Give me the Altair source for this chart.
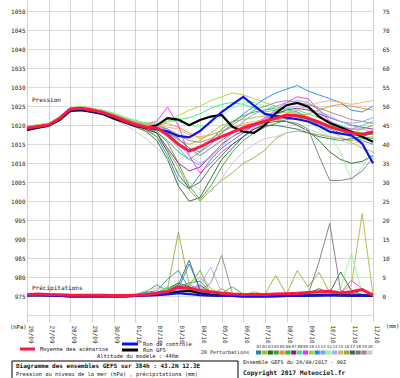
import altair as alt
import pandas as pd

DATES = ["26/09", "27/09", "28/09", "29/09", "30/09", "01/10", "02/10", "03/10", "04/10",
         "05/10", "06/10", "07/10", "08/10", "09/10", "10/10", "11/10", "12/10"]
STEPS = [i * 0.5 for i in range(33)]  # days since 26/09 00Z, 12-hourly

MEMBERS = ["01", "02", "03", "04", "05", "06", "07", "08", "09", "10",
           "11", "12", "13", "14", "15", "16", "17", "18", "19", "20"]
COLORS = ["#1f8a9e", "#b5b53c", "#1f6b1f", "#3ca03c", "#ff8c1a", "#22c022", "#8b1a8b",
          "#22ee88", "#ff22ff", "#99dd22", "#2288ee", "#8899ff", "#88ff88", "#aaaaff",
          "#e8b070", "#99aa33", "#336666", "#777777", "#998888", "#c8c8c8"]

# ---- sea level pressure (hPa) ----
CTRL_P = [1019.2, 1019.6, 1020.0, 1021.6, 1024.1, 1024.3, 1023.8, 1023.2, 1022.2, 1021.0, 1020.0, 1019.4,
          1019.0, 1018.4, 1017.2, 1016.8, 1018.5, 1021.0, 1023.5, 1025.5, 1027.5, 1025.2, 1023.0, 1022.5,
          1022.0, 1021.6, 1021.0, 1019.8, 1018.3, 1017.8, 1017.4, 1015.2, 1010.0]
GFS_P = [1018.8, 1019.4, 1019.9, 1021.4, 1023.8, 1024.0, 1023.5, 1023.0, 1021.8, 1020.8, 1019.8, 1019.3,
         1020.0, 1021.9, 1021.5, 1020.0, 1021.4, 1022.3, 1022.7, 1019.6, 1018.3, 1018.0, 1020.0, 1023.2,
         1025.3, 1025.9, 1024.9, 1022.3, 1020.6, 1019.5, 1018.3, 1017.0, 1015.7]
MEAN_P = [1019.3, 1019.7, 1020.1, 1021.8, 1024.3, 1024.5, 1024.0, 1023.4, 1022.4, 1021.2, 1020.2, 1019.5,
          1019.3, 1017.5, 1015.0, 1013.2, 1014.3, 1015.8, 1017.0, 1018.2, 1019.3, 1020.2, 1021.0, 1021.9,
          1022.7, 1022.5, 1021.9, 1020.8, 1019.6, 1018.8, 1018.0, 1017.6, 1018.3]

M01_P = [1019.5, 1019.8, 1020.3, 1021.8, 1024.2, 1024.6, 1024.1, 1023.6, 1022.6, 1021.4, 1020.2, 1019.0,
         1017.0, 1012.0, 1005.5, 1003.2, 1007.0, 1011.0, 1014.0, 1016.0, 1018.0, 1020.0, 1022.0, 1023.0,
         1024.0, 1023.5, 1022.0, 1020.0, 1019.0, 1018.0, 1017.0, 1016.0, 1015.0]
M02_P = [1018.6, 1019.2, 1019.8, 1021.2, 1023.6, 1024.2, 1023.9, 1023.3, 1022.4, 1021.6, 1020.6, 1019.8,
         1019.0, 1018.0, 1016.0, 1015.0, 1016.0, 1018.0, 1020.0, 1021.0, 1021.5, 1022.0, 1022.5, 1023.0,
         1023.5, 1023.0, 1021.5, 1020.0, 1018.5, 1017.0, 1015.5, 1014.0, 1013.0]
M03_P = [1019.0, 1019.6, 1020.2, 1021.6, 1024.4, 1024.8, 1024.2, 1023.4, 1022.0, 1020.8, 1019.6, 1018.4,
         1016.0, 1011.0, 1004.0, 1000.0, 1001.0, 1006.0, 1011.0, 1014.0, 1017.0, 1019.0, 1020.5, 1021.0,
         1021.0, 1020.0, 1018.5, 1016.0, 1013.0, 1011.0, 1010.0, 1010.5, 1012.0]
M04_P = [1019.3, 1019.9, 1020.4, 1022.0, 1024.0, 1024.4, 1024.0, 1023.7, 1022.8, 1021.6, 1020.4, 1019.3,
         1018.5, 1015.5, 1010.0, 1004.0, 1000.5, 1004.0, 1009.0, 1013.0, 1016.0, 1018.0, 1019.5, 1020.5,
         1021.5, 1022.0, 1021.5, 1020.5, 1019.5, 1018.5, 1017.5, 1017.0, 1016.5]
M05_P = [1019.8, 1020.1, 1020.6, 1022.2, 1024.6, 1025.0, 1024.4, 1023.9, 1023.0, 1022.0, 1021.0, 1020.2,
         1020.0, 1020.5, 1019.5, 1018.0, 1016.5, 1017.5, 1018.5, 1019.5, 1020.0, 1020.5, 1021.0, 1021.5,
         1022.0, 1022.5, 1023.0, 1024.0, 1025.0, 1025.5, 1025.0, 1024.5, 1024.0]
M06_P = [1018.9, 1019.4, 1019.9, 1021.4, 1023.9, 1024.3, 1023.9, 1023.5, 1022.5, 1021.5, 1020.5, 1019.6,
         1018.0, 1016.0, 1013.0, 1011.0, 1013.0, 1016.0, 1019.0, 1021.0, 1022.5, 1023.5, 1024.0, 1024.5,
         1024.0, 1023.0, 1022.0, 1021.0, 1020.0, 1019.0, 1018.5, 1018.0, 1017.5]
M07_P = [1019.1, 1019.5, 1020.0, 1021.5, 1024.0, 1024.5, 1024.0, 1023.4, 1022.3, 1021.3, 1020.1, 1019.0,
         1018.0, 1014.0, 1010.0, 1008.0, 1009.0, 1012.0, 1015.0, 1017.0, 1018.5, 1020.0, 1021.5, 1023.0,
         1024.0, 1024.5, 1024.0, 1023.0, 1022.0, 1021.0, 1020.0, 1019.5, 1019.0]
M08_P = [1019.6, 1020.0, 1020.5, 1022.0, 1024.5, 1024.9, 1024.5, 1024.0, 1023.2, 1022.2, 1021.3, 1020.6,
         1020.5, 1021.0, 1021.5, 1022.0, 1023.0, 1024.5, 1025.5, 1026.0, 1025.5, 1024.5, 1023.5, 1024.0,
         1024.5, 1024.0, 1023.0, 1022.0, 1021.0, 1020.0, 1019.0, 1020.0, 1021.0]
M09_P = [1019.2, 1019.7, 1020.2, 1021.7, 1024.2, 1024.6, 1024.2, 1023.6, 1022.7, 1021.8, 1020.9, 1020.4,
         1021.0, 1024.8, 1020.0, 1012.0, 1007.5, 1010.0, 1013.0, 1015.0, 1017.0, 1019.5, 1022.0, 1024.0,
         1026.0, 1027.5, 1027.0, 1024.0, 1021.0, 1019.5, 1019.0, 1019.0, 1020.0]
M10_P = [1019.4, 1019.9, 1020.4, 1021.9, 1024.3, 1024.7, 1024.3, 1023.8, 1023.0, 1022.0, 1021.1, 1020.3,
         1020.0, 1021.0, 1022.5, 1024.0, 1025.0, 1026.5, 1027.5, 1028.5, 1028.0, 1027.0, 1026.0, 1025.0,
         1024.0, 1023.0, 1022.0, 1021.0, 1020.0, 1019.0, 1018.0, 1019.0, 1020.0]
M11_P = [1018.7, 1019.3, 1019.8, 1021.3, 1023.7, 1024.1, 1023.7, 1023.1, 1022.1, 1021.1, 1020.3, 1020.0,
         1020.0, 1019.0, 1016.5, 1014.0, 1013.0, 1015.0, 1018.0, 1020.5, 1023.0, 1025.0, 1027.0, 1028.5,
         1029.5, 1030.5, 1029.0, 1028.0, 1027.0, 1026.0, 1024.0, 1023.5, 1025.0]
M12_P = [1019.0, 1019.5, 1020.1, 1021.6, 1024.1, 1024.4, 1024.0, 1023.3, 1022.3, 1021.2, 1020.3, 1019.6,
         1019.0, 1017.0, 1014.0, 1011.0, 1009.5, 1012.0, 1015.0, 1018.0, 1021.0, 1023.0, 1024.0, 1025.0,
         1026.0, 1026.5, 1026.0, 1024.0, 1022.0, 1021.0, 1020.5, 1021.0, 1022.0]
M13_P = [1019.7, 1020.1, 1020.6, 1022.1, 1024.5, 1024.9, 1024.4, 1023.9, 1023.0, 1022.1, 1021.2, 1020.6,
         1020.5, 1021.0, 1021.0, 1020.0, 1019.5, 1020.5, 1022.5, 1024.5, 1026.0, 1026.0, 1025.0, 1024.5,
         1024.0, 1023.0, 1021.0, 1019.0, 1017.0, 1013.0, 1005.5, 1009.0, 1013.0]
M14_P = [1019.1, 1019.6, 1020.0, 1021.5, 1024.0, 1024.4, 1023.9, 1023.4, 1022.5, 1021.5, 1020.6, 1019.9,
         1019.5, 1018.0, 1015.0, 1012.0, 1010.0, 1011.5, 1014.5, 1017.0, 1019.0, 1020.5, 1022.0, 1023.5,
         1024.5, 1025.0, 1024.5, 1023.5, 1022.5, 1021.0, 1020.0, 1019.0, 1018.0]
M15_P = [1019.5, 1019.9, 1020.4, 1021.9, 1024.4, 1024.8, 1024.4, 1023.8, 1022.9, 1021.9, 1020.9, 1020.1,
         1020.0, 1019.5, 1019.0, 1017.5, 1017.0, 1017.5, 1018.5, 1019.5, 1020.5, 1021.0, 1021.5, 1022.0,
         1023.0, 1024.0, 1025.0, 1026.0, 1026.5, 1026.0, 1025.5, 1026.0, 1026.5]
M16_P = [1018.8, 1019.3, 1019.9, 1021.3, 1023.8, 1024.3, 1023.8, 1023.2, 1022.1, 1021.0, 1019.8, 1018.6,
         1017.0, 1013.5, 1009.0, 1003.0, 1000.0, 1003.0, 1005.5, 1007.5, 1010.0, 1011.5, 1013.5, 1016.5,
         1018.0, 1018.5, 1018.0, 1017.5, 1017.0, 1016.5, 1016.0, 1016.5, 1017.0]
M17_P = [1019.2, 1019.7, 1020.2, 1021.7, 1024.1, 1024.5, 1024.1, 1023.5, 1022.4, 1021.2, 1019.9, 1018.9,
         1018.0, 1013.0, 1007.0, 1003.5, 1005.0, 1009.0, 1012.0, 1015.0, 1017.0, 1019.0, 1020.0, 1020.0,
         1019.5, 1019.0, 1018.0, 1017.0, 1016.5, 1016.0, 1016.5, 1017.0, 1018.0]
M18_P = [1019.0, 1019.5, 1020.0, 1021.5, 1023.9, 1024.3, 1023.9, 1023.4, 1022.4, 1021.4, 1020.4, 1019.6,
         1019.0, 1018.0, 1016.5, 1014.0, 1012.0, 1014.0, 1016.0, 1018.0, 1019.5, 1020.5, 1021.0, 1021.5,
         1021.0, 1020.5, 1019.0, 1012.0, 1005.5, 1005.5, 1006.0, 1008.0, 1011.5]
M19_P = [1019.4, 1019.8, 1020.3, 1021.8, 1024.2, 1024.6, 1024.2, 1023.7, 1022.7, 1021.7, 1020.7, 1019.9,
         1019.5, 1019.0, 1017.5, 1016.0, 1015.5, 1016.5, 1018.0, 1020.0, 1022.0, 1024.0, 1025.0, 1026.0,
         1026.5, 1026.0, 1025.5, 1024.5, 1023.5, 1022.5, 1021.5, 1021.0, 1020.5]
M20_P = [1018.6, 1019.1, 1019.7, 1021.1, 1023.5, 1023.9, 1023.4, 1022.7, 1021.6, 1020.2, 1018.5, 1016.5,
         1014.0, 1011.0, 1008.0, 1005.0, 1003.0, 1002.5, 1006.0, 1010.0, 1013.0, 1015.0, 1016.5, 1017.0,
         1018.0, 1018.5, 1019.0, 1018.0, 1017.0, 1016.0, 1015.0, 1016.0, 1017.0]

# ---- precipitation (mm) ----
CTRL_R = [0.2, 0.3, 0.2, 0.1, 0, 0, 0, 0, 0, 0, 0.1, 0.2,
          0.3, 0.5, 0.8, 0.6, 0.3, 0.2, 0.1, 0.1, 0, 0, 0, 0.1, 0.1, 0.1, 0.2, 0.2, 0.3, 0.2, 0.2, 0.3, 0.1]
GFS_R = [0.3, 0.6, 0.4, 0.2, 0, 0, 0, 0, 0, 0, 0.1, 0.3,
         0.5, 0.8, 1.2, 1.5, 0.8, 0.4, 0.2, 0.1, 0, 0, 0, 0, 0.1, 0.1, 0.2, 0.3, 0.4, 0.3, 0.2, 0.2, 0.1]
MEAN_R = [0.4, 0.6, 0.5, 0.4, 0.3, 0.3, 0.3, 0.3, 0.2, 0.2, 0.3, 0.4,
          0.8, 1.2, 2.4, 2.2, 1.5, 1.2, 0.8, 0.6, 0.5, 0.5, 0.5, 0.6, 0.7, 0.8, 1.0, 1.2, 1.3, 0.9, 1.2, 1.8, 0.3]

M01_R = [0.1, 0.2, 0.1, 0, 0, 0, 0, 0, 0, 0, 0.3, 1.0,
         1.5, 4.5, 6.8, 2.0, 0.5, 0.3, 0.2, 0.1, 0, 0, 0, 0.1, 0.2, 0.3, 0.5, 0.3, 0.2, 0.5, 0.8, 0.5, 0.1]
M02_R = [0.2, 0.3, 0.1, 0, 0, 0, 0, 0, 0, 0, 0.1, 0.3,
         0.5, 1.0, 2.0, 1.0, 0.5, 0.2, 0, 0, 0, 0.1, 0.2, 0.3, 0.2, 0.5, 0.8, 1.0, 0.5, 1.0, 3.0, 21.8, 0.5]
M03_R = [0.1, 0.2, 0.2, 0, 0, 0, 0, 0, 0, 0, 0.2, 0.6,
         0.8, 2.0, 3.5, 2.5, 1.5, 0.5, 0.3, 0.1, 0, 0, 0, 0.2, 0.3, 0.3, 0.8, 2.0, 1.0, 6.4, 1.5, 0.5, 0.2]
M04_R = [0.1, 0.1, 0.1, 0, 0, 0, 0, 0, 0, 0, 0.5, 1.2,
         3.0, 1.5, 2.5, 3.5, 4.0, 1.0, 0.3, 0.1, 0, 0, 0, 0.1, 0.1, 0.2, 0.3, 0.2, 0.2, 0.3, 0.4, 0.3, 0.1]
M05_R = [0.2, 0.2, 0.1, 0, 0, 0, 0, 0, 0, 0, 0.1, 0.3,
         0.5, 1.5, 1.0, 0.5, 0.2, 0, 0, 0, 0.3, 1.2, 0.5, 0.2, 0.1, 0.1, 0.2, 0.3, 0.2, 0.2, 0.3, 0.2, 0.1]
M06_R = [0.1, 0.2, 0.1, 0, 0, 0, 0, 0, 0, 0, 0.3, 0.7,
         1.0, 2.0, 3.0, 1.5, 1.0, 0.5, 0.8, 2.5, 0.5, 0.2, 0.1, 0.1, 0.2, 0.3, 0.3, 0.5, 0.4, 0.3, 0.3, 0.4, 0.1]
M07_R = [0.1, 0.2, 0.1, 0, 0, 0, 0, 0, 0, 0, 0.2, 0.4,
         0.6, 1.0, 1.5, 2.0, 3.0, 1.0, 0.4, 0.2, 0.1, 0, 0, 0.1, 0.2, 0.2, 0.3, 0.3, 0.2, 0.3, 0.4, 0.3, 0.1]
M08_R = [0.2, 0.3, 0.1, 0, 0, 0, 0, 0, 0, 0, 0.3, 0.6,
         1.0, 2.5, 1.5, 0.5, 0.3, 0.1, 0, 0, 0, 0.1, 0.1, 0.2, 0.2, 0.3, 0.3, 0.4, 0.3, 0.3, 0.5, 0.4, 0.1]
M09_R = [0.1, 0.2, 0.1, 0, 0, 0, 0, 0, 0, 0, 0.2, 0.5,
         0.6, 0.8, 1.0, 3.0, 2.0, 0.8, 0.3, 0.1, 0, 0, 0.1, 0.2, 0.3, 0.4, 0.5, 0.5, 0.6, 1.0, 4.2, 2.0, 0.3]
M10_R = [0.2, 0.2, 0.1, 0, 0, 0, 0, 0, 0, 0, 0.2, 0.4,
         0.5, 0.8, 1.2, 1.5, 2.5, 1.0, 0.3, 0.1, 0, 0, 0, 0.1, 0.1, 0.2, 0.2, 0.3, 0.2, 0.3, 0.3, 0.2, 0.1]
M11_R = [0.1, 0.2, 0.1, 0, 0, 0, 0, 0, 0, 0, 0.2, 0.5,
         0.8, 1.0, 2.0, 8.5, 2.0, 0.5, 0.2, 0.1, 0, 0, 0, 0.1, 0.1, 0.1, 0.2, 0.2, 0.3, 0.3, 0.3, 0.2, 0.1]
M12_R = [0.1, 0.1, 0.1, 0, 0, 0, 0, 0, 0, 0, 0.2, 0.4,
         0.6, 1.0, 1.5, 3.0, 5.0, 2.0, 0.5, 0.2, 0.1, 0, 0, 0.1, 0.2, 0.2, 0.3, 0.3, 0.3, 0.4, 0.3, 0.3, 0.1]
M13_R = [0.2, 0.2, 0.1, 0, 0, 0, 0, 0, 0, 0, 0.2, 0.4,
         0.5, 0.8, 1.0, 2.0, 6.8, 2.0, 0.5, 0.2, 0.1, 0, 0, 0.1, 0.1, 0.2, 0.3, 0.5, 0.8, 2.0, 11.3, 1.0, 0.2]
M14_R = [0.1, 0.2, 0.1, 0, 0, 0, 0, 0, 0, 0, 0.2, 0.5,
         0.6, 1.0, 1.5, 2.0, 3.0, 7.7, 1.0, 0.3, 0.1, 0, 0, 0.1, 0.1, 0.2, 0.2, 0.3, 0.3, 0.3, 0.4, 0.3, 0.1]
M15_R = [0.2, 0.3, 0.1, 0, 0, 0, 0, 0, 0, 0, 0.1, 0.3,
         0.5, 1.0, 0.8, 0.5, 0.3, 0.1, 0, 0, 0.1, 0.3, 0.5, 0.3, 0.2, 0.3, 0.5, 0.4, 0.3, 0.3, 0.5, 0.6, 0.2]
M16_R = [0.1, 0.2, 0.1, 0, 0, 0, 0, 0, 0, 0, 0.3, 0.8,
         1.0, 2.0, 16.9, 3.0, 6.8, 0.5, 2.0, 0.5, 0.2, 0.3, 0.5, 5.5, 0.5, 6.8, 2.5, 6.3, 1.0, 0.3, 0.2, 0.2, 0.1]
M17_R = [0.1, 0.2, 0.1, 0, 0, 0, 0, 0, 0, 0, 0.2, 0.6,
         1.0, 1.5, 3.0, 9.5, 1.5, 0.5, 0.2, 0.1, 0, 0, 0, 0.1, 0.1, 0.2, 0.3, 0.3, 0.4, 0.5, 0.4, 0.3, 0.1]
M18_R = [0.1, 0.2, 0.1, 0, 0, 0, 0, 0, 0, 0, 0.1, 0.3,
         0.5, 0.8, 1.0, 1.5, 1.0, 0.5, 0.2, 0.1, 0, 0, 0.1, 0.2, 0.2, 0.3, 0.5, 9.0, 19.2, 1.5, 0.5, 0.3, 0.1]
M19_R = [0.2, 0.2, 0.1, 0, 0, 0, 0, 0, 0, 0, 0.2, 0.4,
         0.5, 0.8, 1.0, 1.2, 1.5, 3.5, 10.8, 0.8, 0.3, 0.1, 0, 0.1, 0.1, 0.2, 0.2, 0.3, 0.3, 0.3, 0.4, 0.3, 0.1]
M20_R = [0.2, 0.3, 0.2, 0, 0, 0, 0, 0, 0, 0.2, 0.6, 1.5,
         2.2, 1.5, 2.0, 1.0, 0.5, 0.3, 0.2, 0.1, 0, 0, 0.1, 0.1, 0.2, 0.2, 0.3, 0.3, 0.2, 0.3, 0.3, 0.2, 0.1]

P_MEMBERS = [M01_P, M02_P, M03_P, M04_P, M05_P, M06_P, M07_P, M08_P, M09_P, M10_P,
             M11_P, M12_P, M13_P, M14_P, M15_P, M16_P, M17_P, M18_P, M19_P, M20_P]
R_MEMBERS = [M01_R, M02_R, M03_R, M04_R, M05_R, M06_R, M07_R, M08_R, M09_R, M10_R,
             M11_R, M12_R, M13_R, M14_R, M15_R, M16_R, M17_R, M18_R, M19_R, M20_R]

PRECIP_BASE = 975  # precipitation 0 mm sits on the 975 hPa line (right axis = left - 975)


def frame(series_list, names, offset=0.0):
    rows = []
    for name, vals in zip(names, series_list):
        for t, v in zip(STEPS, vals):
            rows.append({"t": t, "v": v + offset, "m": name})
    return pd.DataFrame(rows)


df_mp = frame(P_MEMBERS, MEMBERS)
df_mr = frame(R_MEMBERS, MEMBERS, PRECIP_BASE)
df_ctrl = pd.concat([frame([CTRL_P], ["p"]), frame([CTRL_R], ["r"], PRECIP_BASE)])
df_gfs = pd.concat([frame([GFS_P], ["p"]), frame([GFS_R], ["r"], PRECIP_BASE)])
df_mean = pd.concat([frame([MEAN_P], ["p"]), frame([MEAN_R], ["r"], PRECIP_BASE)])

MONO = "DejaVu Sans Mono"
XS = alt.Scale(domain=[0, 16], nice=False, zero=False)
YS = alt.Scale(domain=[968.24, 1052.97], nice=False, zero=False)
date_expr = "[" + ",".join("'%s'" % d for d in DATES) + "][datum.value]"

X_AXIS = alt.Axis(values=list(range(17)), labelExpr=date_expr, labelAngle=90, labelAlign="left",
                  labelBaseline="middle", labelPadding=3, labelOffset=3, grid=True,
                  gridColor="#d2d2d2", gridWidth=1, domain=False, ticks=False, labelFont=MONO,
                  labelFontSize=6, labelColor="#222222", title=None, labelOverlap=False,
                  labelFlush=False)
Y_LEFT = alt.Axis(orient="left", values=list(range(970, 1051, 5)),
                  labelExpr="datum.value < 975 ? '' : format(datum.value, 'd')", grid=True,
                  gridColor="#b4b4b4", gridDash=[1, 1], gridWidth=1, domain=False, ticks=False,
                  labelPadding=2, labelFont=MONO, labelFontSize=6, labelColor="#222222",
                  title=None, labelOverlap=False)
Y_RIGHT = alt.Axis(orient="right", values=list(range(975, 1051, 5)),
                   labelExpr="format(datum.value - 975, 'd')", grid=False, domain=False,
                   ticks=False, labelPadding=9, labelFont=MONO, labelFontSize=6,
                   labelColor="#222222", title=None, labelOverlap=False)

X_ENC = alt.X("t:Q", scale=XS, axis=X_AXIS)
COLOR_ENC = alt.Color("m:N", scale=alt.Scale(domain=MEMBERS, range=COLORS), legend=None)

members_p = alt.Chart(df_mp).mark_line(strokeWidth=0.9).encode(
    x=X_ENC, y=alt.Y("v:Q", scale=YS, axis=Y_LEFT), color=COLOR_ENC)
members_r = alt.Chart(df_mr).mark_line(strokeWidth=0.9).encode(
    x=X_ENC, y=alt.Y("v:Q", scale=YS, axis=Y_RIGHT), color=COLOR_ENC)
gfs = alt.Chart(df_gfs).mark_line(strokeWidth=2.2, color="#000000").encode(
    x=X_ENC, y=alt.Y("v:Q", scale=YS, axis=None), detail="m:N")
ctrl = alt.Chart(df_ctrl).mark_line(strokeWidth=2.2, color="#1010ee").encode(
    x=X_ENC, y=alt.Y("v:Q", scale=YS, axis=None), detail="m:N")
mean = alt.Chart(df_mean).mark_line(strokeWidth=3, color="#ff1744").encode(
    x=X_ENC, y=alt.Y("v:Q", scale=YS, axis=None), detail="m:N")

ONE = pd.DataFrame({"k": [0]})


def label(txt, x, y, size, bold=False, color="#111111"):
    return alt.Chart(ONE).mark_text(
        text=txt, align="left", baseline="middle", font=MONO, fontSize=size,
        fontWeight="bold" if bold else "normal", color=color
    ).encode(x=alt.value(x), y=alt.value(y))


def swatch(color, x1, x2, y):
    return alt.Chart(ONE).mark_rule(color=color, strokeWidth=3).encode(
        x=alt.value(x1), x2=alt.value(x2), y=alt.value(y))


# legend colour boxes for the 20 members
df_leg = pd.DataFrame({"m": MEMBERS, "idx": list(range(20))})
leg_boxes = alt.Chart(df_leg).mark_rect().transform_calculate(
    bx="10.59 + datum.idx * 0.2706", bx2="10.59 + (datum.idx + 1) * 0.2706 - 0.03"
).encode(x=alt.X("bx:Q", scale=XS, axis=X_AXIS), x2="bx2:Q",
         y=alt.value(350.5), y2=alt.value(354.5), color=COLOR_ENC)
leg_nums = alt.Chart(df_leg).mark_text(font=MONO, fontSize=4.2, color="#333333",
                                       align="center", baseline="middle").transform_calculate(
    bc="10.59 + (datum.idx + 0.5) * 0.2706"
).encode(x=alt.X("bc:Q", scale=XS, axis=X_AXIS), y=alt.value(346.5), text="m:N")

box = alt.Chart(ONE).mark_rect(fillOpacity=0, stroke="#000000", strokeWidth=1).encode(
    x=alt.value(-15), x2=alt.value(211), y=alt.value(361), y2=alt.value(382))

layers = [
    members_p, members_r, gfs, ctrl, mean,
    label("Pression", 5, 100, 6),
    label("Précipitations", 5, 288, 6),
    label("(hPa)", -17, 327, 5.5),
    label("(mm)", 359, 326, 5.5),
    swatch("#ff1744", -7, 8, 349),
    label("Moyenne des scénarios", 13, 349, 5.4),
    swatch("#1010ee", 95, 111, 344),
    label("Run de controle", 116, 344, 5.4),
    swatch("#000000", 95, 111, 350),
    label("Run GFS", 116, 350, 5.4),
    label("Altitude du modele : 446m", 70, 356, 5.4),
    label("20 Perturbations", 174, 352, 5),
    leg_boxes, leg_nums, box,
    label("Diagramme des ensembles GEFS sur 384h : 43.2N 12.3E", -11, 366, 6, bold=True),
    label("Pression au niveau de la mer (hPa) , précipitations (mm)", -11, 373.5, 5.4),
    label("Ensemble GEFS du 26/09/2017 - 00Z", 216, 362, 5.2),
    label("Copyright 2017 Meteociel.fr", 216, 373, 6.3, bold=True),
]

chart = alt.layer(*layers).resolve_axis(y="independent").properties(
    width=346, height=322,
    autosize=alt.AutoSizeParams(type="none"),
    padding={"left": 27, "top": 0, "right": 27, "bottom": 56},
    background="white",
).configure_view(stroke=None)

chart.save("out.html", embed_options={"renderer": "svg", "actions": False})
